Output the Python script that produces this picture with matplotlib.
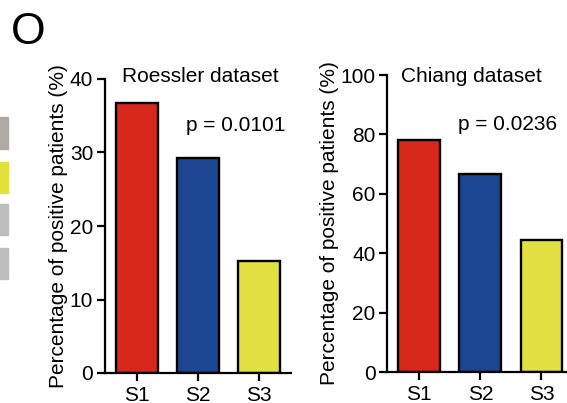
import matplotlib
matplotlib.use("Agg")
import matplotlib.pyplot as plt
from matplotlib.patches import Rectangle

plt.rcParams["font.family"] = ["Liberation Sans", "DejaVu Sans"]

# data
groups = ["S1", "S2", "S3"]
roessler_pct = [36.8, 29.2, 15.3]
chiang_pct = [78.1, 66.7, 44.6]
roessler_p = "p = 0.0101"
chiang_p = "p = 0.0236"
bar_colors = ["#d8281c", "#1c4592", "#e3e042"]

W, H = 567, 403
FS = 15


def draw_panel(ax, values, ymax, step, title, ptext, title_xy, p_xy):
    x = range(len(groups))
    ax.bar(x, values, width=0.68, color=bar_colors, edgecolor="black",
           linewidth=1.7, zorder=2)
    ax.set_xlim(-0.52, 2.52)
    ax.set_ylim(0, ymax)
    ax.set_yticks(range(0, ymax + 1, step))
    ax.set_xticks(list(x))
    ax.set_xticklabels(groups)
    for s in ["top", "right"]:
        ax.spines[s].set_visible(False)
    for s in ["left", "bottom"]:
        ax.spines[s].set_linewidth(1.6)
    ax.tick_params(width=1.6, length=6, labelsize=FS, pad=2.5)
    ax.tick_params(axis="x", pad=3.5)
    ax.set_ylabel("Percentage of positive patients (%)", fontsize=FS,
                  labelpad=1)
    ax.text(title_xy[0], title_xy[1], title, transform=ax.transAxes,
            fontsize=FS, ha="left", va="center")
    ax.text(p_xy[0], p_xy[1], ptext, transform=ax.transAxes,
            fontsize=FS, ha="left", va="center")


fig = plt.figure(figsize=(W / 100, H / 100), dpi=100)

ax1 = fig.add_axes([105 / W, 30 / H, 186 / W, 294 / H])
draw_panel(ax1, roessler_pct, 40, 10, "Roessler dataset", roessler_p,
           (0.09, 1.008), (0.435, 0.843))

ax2 = fig.add_axes([387.3 / W, 31 / H, 186 / W, 297 / H])
draw_panel(ax2, chiang_pct, 100, 20, "Chiang dataset", chiang_p,
           (0.072, 0.994), (0.38, 0.832))

fig.text(11 / W, 1 - 32 / H, "O", fontsize=32, ha="left", va="center")

# edge of the neighbouring panel, cut off on the left
for y0, y1, c in [(117, 149, "#ada9a3"), (162, 193, "#e3e03a"),
                  (204, 235, "#bdbdbd"), (248, 279, "#bdbdbd")]:
    fig.patches.append(Rectangle((0, 1 - y1 / H), 8 / W, (y1 - y0) / H,
                                 transform=fig.transFigure, color=c))

fig.savefig("out.png", dpi=100)
